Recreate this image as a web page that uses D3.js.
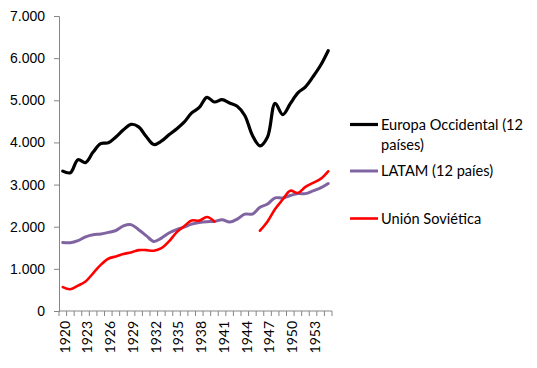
<!DOCTYPE html>
<html>
<head>
<meta charset="utf-8">
<script src="https://cdn.jsdelivr.net/npm/d3@7"></script>
<style>
  body { margin: 0; background: #fff; }
  svg { font-family: Lato, "Open Sans", sans-serif; }
</style>
</head>
<body>
<svg width="537" height="368"></svg>
<script>
// years on the category axis
const years = d3.range(1920, 1956)

const europa = [3320, 3280, 3590, 3520, 3770, 3970, 3990, 4130, 4300, 4430,
  4370, 4140, 3950, 4030, 4180, 4320, 4480, 4700, 4830, 5070,
  4960, 5015, 4935, 4860, 4640, 4170, 3920, 4130, 4930, 4660,
  4920, 5175, 5320, 5560, 5830, 6175]

const latam = [1625, 1620, 1670, 1760, 1810, 1825, 1865, 1910, 2020, 2050,
  1930, 1790, 1650, 1730, 1850, 1930, 1990, 2060, 2100, 2120,
  2125, 2165, 2110, 2180, 2300, 2300, 2460, 2540, 2685, 2680,
  2740, 2785, 2785, 2850, 2920, 3025]

const urss = [565, 515, 600, 700, 895, 1095, 1240, 1295, 1355, 1390,
  1445, 1445, 1430, 1490, 1650, 1865, 2010, 2150, 2145, 2230,
  2125, null, null, null, null, null, 1905, 2125, 2420, 2645,
  2855, 2800, 2945, 3040, 3135, 3315]

const yTicks = [0, 1000, 2000, 3000, 4000, 5000, 6000, 7000]
const xLabelYears = years.filter(y => (y - 1920) % 3 === 0)

const seriesNames = ["Europa Occidental (12|países)", "LATAM (12 paíes)", "Unión Soviética"]
const seriesColours = ["#000000", "#8064a2", "#ff0000"]

const svg = d3.select("svg")
const axisColour = "#868686"

const x = d3.scaleBand()
  .domain(years)
  .range([59, 332])
  .padding(0)

const y = d3.scaleLinear()
  .domain([0, 7000])
  .range([311, 16])

const fmt = d => d3.format(",")(d).replace(/,/g, ".")

// y axis
const yAxis = svg.append("g")
  .attr("transform", "translate(59,0)")
  .call(d3.axisLeft(y).tickValues(yTicks).tickSize(5).tickPadding(9).tickFormat(fmt))
yAxis.select(".domain").attr("stroke", axisColour)
yAxis.selectAll(".tick line").attr("stroke", axisColour)
yAxis.selectAll(".tick text")
  .attr("fill", "#000")
  .style("font-size", "14px")

// x axis: baseline, ticks between categories, rotated labels every 3 years
const xAxis = svg.append("g")
xAxis.append("line")
  .attr("x1", x.range()[0]).attr("x2", x.range()[1])
  .attr("y1", y(0)).attr("y2", y(0))
  .attr("stroke", axisColour)
xAxis.selectAll("line.tk")
  .data(years.concat([null]))
  .enter().append("line")
  .attr("class", "tk")
  .attr("x1", (d, i) => x.range()[0] + i * x.step())
  .attr("x2", (d, i) => x.range()[0] + i * x.step())
  .attr("y1", y(0))
  .attr("y2", y(0) + 5)
  .attr("stroke", axisColour)
xAxis.selectAll("text")
  .data(xLabelYears)
  .enter().append("text")
  .attr("transform", d => `translate(${x(d) + x.bandwidth() / 2 + 2},${y(0) + 10}) rotate(-90)`)
  .attr("text-anchor", "end")
  .attr("dy", "0.35em")
  .style("font-size", "14px")
  .text(d => d)

// lines
const line = d3.line()
  .defined(d => d != null)
  .x((d, i) => x(years[i]) + x.bandwidth() / 2)
  .y(d => y(d))
  .curve(d3.curveCatmullRom)

const allSeries = [europa, latam, urss]
const widths = [3.2, 3, 2.6]

svg.append("g")
  .selectAll("path")
  .data(allSeries)
  .enter().append("path")
  .attr("d", d => line(d))
  .attr("fill", "none")
  .attr("stroke", (d, i) => seriesColours[i])
  .attr("stroke-width", (d, i) => widths[i])
  .attr("stroke-linejoin", "round")
  .attr("stroke-linecap", "round")

// legend
const legendY = [124.5, 171, 218.5]
const legend = svg.append("g")
  .selectAll("g")
  .data(seriesNames)
  .enter().append("g")
  .attr("transform", (d, i) => `translate(350,${legendY[i]})`)

legend.append("line")
  .attr("x1", 0).attr("x2", 28)
  .attr("stroke", (d, i) => seriesColours[i])
  .attr("stroke-width", (d, i) => widths[i])

legend.append("text")
  .attr("x", 31)
  .style("font-size", "14.6px")
  .selectAll("tspan")
  .data(d => d.split("|"))
  .enter().append("tspan")
  .attr("x", 31)
  .attr("dy", (d, i) => i === 0 ? "0.35em" : "20px")
  .text(d => d)
</script>
</body>
</html>
